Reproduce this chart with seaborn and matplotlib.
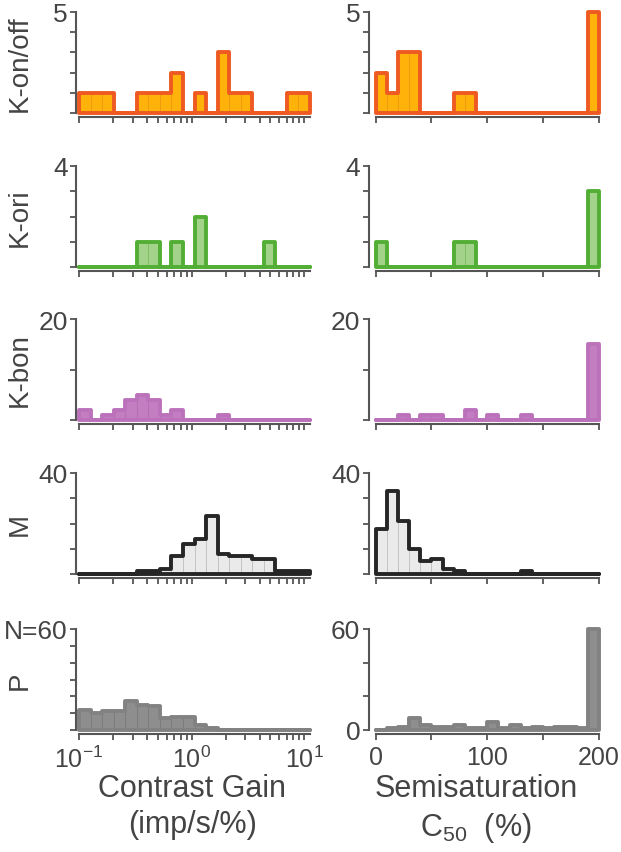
import numpy as np
import matplotlib
matplotlib.use("Agg")
import matplotlib.pyplot as plt
from matplotlib.ticker import NullFormatter
import seaborn as sns

# Counts per bin (20 bins in every panel)
# contrast gain: log-spaced bins from 10^-1 to 10^1.05
# C50: 10 %-wide bins from 0 to 200
kon_gain = [1, 1, 1, 0, 0, 1, 1, 1, 2, 0, 1, 0, 3, 1, 1, 0, 0, 0, 1, 1]
kon_c50 = [2, 1, 3, 3, 0, 0, 0, 1, 1, 0, 0, 0, 0, 0, 0, 0, 0, 0, 0, 5]
kori_gain = [0, 0, 0, 0, 0, 1, 1, 0, 1, 0, 2, 0, 0, 0, 0, 0, 1, 0, 0, 0]
kori_c50 = [1, 0, 0, 0, 0, 0, 0, 1, 1, 0, 0, 0, 0, 0, 0, 0, 0, 0, 0, 3]
kbon_gain = [2, 0, 1, 2, 4, 5, 4, 1, 2, 0, 0, 0, 1, 0, 0, 0, 0, 0, 0, 0]
kbon_c50 = [0, 0, 1, 0, 1, 1, 0, 0, 2, 0, 1, 0, 0, 1, 0, 0, 0, 0, 0, 15]
m_gain = [0, 0, 0, 0, 0, 1, 1, 2, 7, 12, 14, 23, 8, 7, 7, 6, 6, 1, 1, 1]
m_c50 = [18, 33, 21, 10, 5, 6, 2, 1, 0, 0, 0, 0, 0, 1, 0, 0, 0, 0, 0, 0]
p_gain = [12, 10, 11, 11, 17, 15, 14, 7, 8, 8, 3, 1, 0, 0, 0, 0, 0, 0, 0, 0]
p_c50 = [0, 1, 2, 7, 3, 2, 2, 3, 1, 1, 5, 1, 3, 1, 2, 1, 2, 2, 1, 60]

cell_types = ['K-on/off', 'K-ori', 'K-bon', 'M', 'P']
gain_counts = [kon_gain, kori_gain, kbon_gain, m_gain, p_gain]
c50_counts = [kon_c50, kori_c50, kbon_c50, m_c50, p_c50]
y_max = [5, 4, 20, 40, 60]
y_step_left = [1, 1, 10, 10, 10]
y_step_right = [1, 1, 10, 10, 20]

fill_colors = ['#FFB20A', '#A3D38A', '#C27EC1', '#EAEAEA', '#8E8E8E']
divider_colors = ['#F29A10', '#80C062', '#B46DB3', '#C4C4C4', '#7C7C7C']
edge_colors = ['#EE5A22', '#52AE34', '#BC72BB', '#262626', '#828282']

text_color = '#444444'

# bin edges (passed as lists: seaborn 0.13 chokes on array bins with weights)
gain_edges = np.linspace(-1, 1.05, 21)          # log10 units
gain_centers = 10 ** ((gain_edges[:-1] + gain_edges[1:]) / 2)
c50_edges = np.linspace(0, 200, 21)
c50_centers = (c50_edges[:-1] + c50_edges[1:]) / 2

sns.set_style('ticks')
plt.rcParams['font.family'] = ['Liberation Sans', 'DejaVu Sans']
plt.rcParams['mathtext.fontset'] = 'custom'
plt.rcParams['mathtext.rm'] = 'Liberation Sans'
plt.rcParams['mathtext.it'] = 'Liberation Sans:italic'
plt.rcParams['text.color'] = text_color
plt.rcParams['axes.labelcolor'] = text_color
plt.rcParams['xtick.color'] = '#555555'
plt.rcParams['ytick.color'] = '#555555'
plt.rcParams['xtick.labelcolor'] = text_color
plt.rcParams['ytick.labelcolor'] = text_color

W, H = 621, 853
fig = plt.figure(figsize=(W / 100, H / 100), dpi=100)

row_top = [13, 167, 320, 474, 630]
panel_h = 101
left_x, left_w = 79, 231
right_x, right_w = 375.5, 223.5


def draw_hist(ax, centers, counts, bins, fill, divider, edge, log):
    bins = list(bins)
    # filled bars with thin dividers
    sns.histplot(x=centers, weights=counts, bins=bins, log_scale=log,
                 element='bars', color=fill, alpha=1, edgecolor=divider,
                 linewidth=0.7, ax=ax)
    # thick outline around the whole histogram
    sns.histplot(x=centers, weights=counts, bins=bins, log_scale=log,
                 element='step', fill=True, color=edge, facecolor='none',
                 edgecolor=edge, linewidth=2.8, joinstyle='round',
                 clip_on=False, ax=ax)


def style_axis(ax, ymax, ystep, labels):
    ax.set_ylim(0, ymax)
    ticks = np.arange(0, ymax + 1, ystep)
    ax.set_yticks(ticks)
    ax.set_yticklabels(labels(ticks))
    ax.set_ylabel('')
    ax.tick_params(axis='both', which='both', direction='out', length=4,
                   width=1.3, labelsize=19, pad=2)
    for s in ['left', 'bottom']:
        ax.spines[s].set_linewidth(1.5)
        ax.spines[s].set_color('#555555')


for i, name in enumerate(cell_types):
    b = H - row_top[i] - panel_h
    axl = fig.add_axes([left_x / W, b / H, left_w / W, panel_h / H])
    axr = fig.add_axes([right_x / W, b / H, right_w / W, panel_h / H])

    draw_hist(axl, gain_centers, gain_counts[i], gain_edges,
              fill_colors[i], divider_colors[i], edge_colors[i], True)
    draw_hist(axr, c50_centers, c50_counts[i], c50_edges,
              fill_colors[i], divider_colors[i], edge_colors[i], False)

    last = i == len(cell_types) - 1
    top_lab = 'N=60' if last else str(y_max[i])
    style_axis(axl, y_max[i], y_step_left[i],
               lambda t: [''] * (len(t) - 1) + [top_lab])
    if last:
        style_axis(axr, y_max[i], y_step_right[i],
                   lambda t: ['0'] + [''] * (len(t) - 2) + [str(y_max[i])])
    else:
        style_axis(axr, y_max[i], y_step_right[i],
                   lambda t: [''] * (len(t) - 1) + [str(y_max[i])])

    axl.set_xlim(10 ** -1, 10 ** 1.05)
    axl.set_xticks([0.1, 1, 10])
    axl.xaxis.set_minor_formatter(NullFormatter())
    axr.set_xlim(0, 200)
    axr.set_xticks([0, 100, 200])
    axr.set_xticks([50, 150], minor=True)

    sns.despine(ax=axl, offset={'left': 2, 'bottom': 3})
    sns.despine(ax=axr, offset={'left': 5, 'bottom': 3})

    # row label, vertical, at the far left
    axl.set_ylabel(name, fontsize=20)
    axl.yaxis.set_label_coords(-0.2, 0.5)

    if last:
        axl.tick_params(axis='x', labelsize=18, pad=4)
        axr.tick_params(axis='x', labelsize=18, pad=4)
        axl.set_xlabel('Contrast Gain\n(imp/s/%)', fontsize=22,
                       linespacing=1.25)
        axr.set_xlabel('Semisaturation\n$\\mathregular{C_{50}}$  (%)',
                       fontsize=22, linespacing=1.25)
        axl.xaxis.set_label_coords(0.49, -0.43)
        axr.xaxis.set_label_coords(0.45, -0.43)
    else:
        axl.tick_params(axis='x', labelbottom=False)
        axr.tick_params(axis='x', labelbottom=False)

fig.savefig('out.png', dpi=100)
